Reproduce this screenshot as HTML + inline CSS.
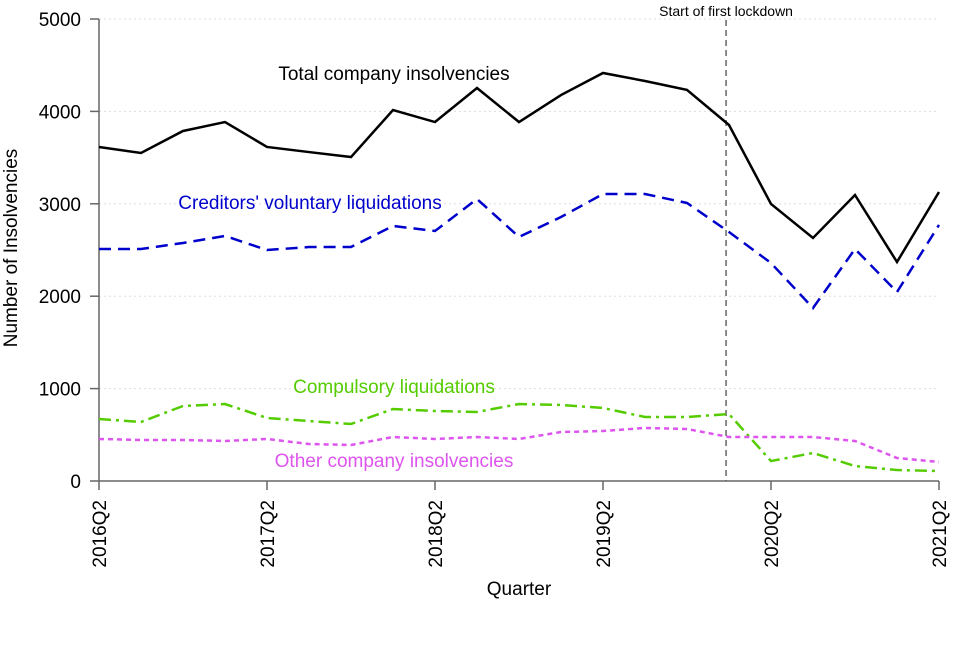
<!DOCTYPE html>
<html><head><meta charset="utf-8"><style>
body{margin:0;background:#fff;width:960px;height:640px;overflow:hidden}
text{font-family:"Liberation Sans",sans-serif}
</style></head><body>
<svg id="chart" width="960" height="640"></svg>
<script>
const quarters=["2016Q2","2016Q3","2016Q4","2017Q1","2017Q2","2017Q3","2017Q4","2018Q1","2018Q2","2018Q3","2018Q4","2019Q1","2019Q2","2019Q3","2019Q4","2020Q1","2020Q2","2020Q3","2020Q4","2021Q1","2021Q2"];
const totalVals=[3615,3550,3788,3885,3615,3560,3506,4015,3885,4253,3885,4177,4416,4329,4232,3853,2998,2630,3095,2370,3128];
const cvlVals=[2511,2511,2576,2652,2500,2532,2532,2760,2706,3052,2641,2857,3106,3106,3009,2695,2359,1872,2511,2045,2771];
const compVals=[671,639,812,833,682,649,617,779,758,747,833,823,790,693,693,725,216,303,162,119,108];
const otherVals=[455,444,444,433,455,400,390,476,455,476,455,530,541,574,563,476,476,476,433,249,206];
const yTicks=[0,1000,2000,3000,4000,5000];
const xTickLabels=["2016Q2","2017Q2","2018Q2","2019Q2","2020Q2","2021Q2"];
const lockdownIndex=14.93;

const NS="http://www.w3.org/2000/svg",svg=document.getElementById('chart');
const x=i=>99+i*42, y=v=>481-v*0.0924;
function el(t,a,p){const e=document.createElementNS(NS,t);for(const k in a)e.setAttribute(k,a[k]);(p||svg).appendChild(e);return e;}
yTicks.forEach(v=>{
 if(v>0){const g=el('line',{x1:99,x2:939,y1:y(v),y2:y(v),stroke:'#ddd','stroke-dasharray':'2,3'});
 
 }
 const t=el('line',{x1:90,x2:99,y1:y(v),y2:y(v),stroke:'#666','stroke-width':1.5});
 
 
 const l=el('text',{x:81,y:y(v)+7,'text-anchor':'end','font-size':19});l.textContent=v;
 
 
});
const ya=el('line',{x1:99,x2:99,y1:y(0),y2:y(5000),stroke:'#666','stroke-width':1.5});


const xa=el('line',{x1:99,x2:939,y1:481,y2:481,stroke:'#666','stroke-width':1.5});


quarters.forEach((q,i)=>{
 if(xTickLabels.includes(q)){
 const t=el('line',{x1:x(i),x2:x(i),y1:481,y2:490,stroke:'#666','stroke-width':1.5});
 
 
 const l=el('text',{transform:`translate(${x(i)+7},500) rotate(-90)`,'text-anchor':'end','font-size':19});l.textContent=q;
 
 }
});
const lk=el('line',{x1:x(lockdownIndex),x2:x(lockdownIndex),y1:20,y2:481,stroke:'#666','stroke-width':1.5,'stroke-dasharray':'6,4'});


const lkt=el('text',{x:x(lockdownIndex),y:16,'text-anchor':'middle','font-size':14});lkt.textContent='Start of first lockdown';


function series(vals,color,dash,name){
 const p=el('polyline',{points:vals.map((v,i)=>x(i)+','+y(v)).join(' '),fill:'none',stroke:color,'stroke-width':2.5,'stroke-dasharray':dash});
 
 
}
series(totalVals,'#000','none','total-line');
series(cvlVals,'#0000cc','12,7','cvl-line');
series(compVals,'#55cc00','12,5,3,5','compulsory-line');
series(otherVals,'#dd55ee','5,4','other-line');
function lab(tx,xx,yy,c,n){const t=el('text',{x:xx,y:yy,'font-size':19,fill:c,'text-anchor':'middle'});t.textContent=tx;
 
 }
lab('Total company insolvencies',394,80,'#000','total-label');
lab("Creditors' voluntary liquidations",310,209,'#0000cc','cvl-label');
lab('Compulsory liquidations',394,393,'#55cc00','compulsory-label');
lab('Other company insolvencies',394,467,'#dd55ee','other-label');
const xt=el('text',{x:519,y:595,'text-anchor':'middle','font-size':19});xt.textContent='Quarter';


const yt=el('text',{transform:'translate(17,248) rotate(-90)','text-anchor':'middle','font-size':19});yt.textContent='Number of Insolvencies';


</script>
</body></html>
